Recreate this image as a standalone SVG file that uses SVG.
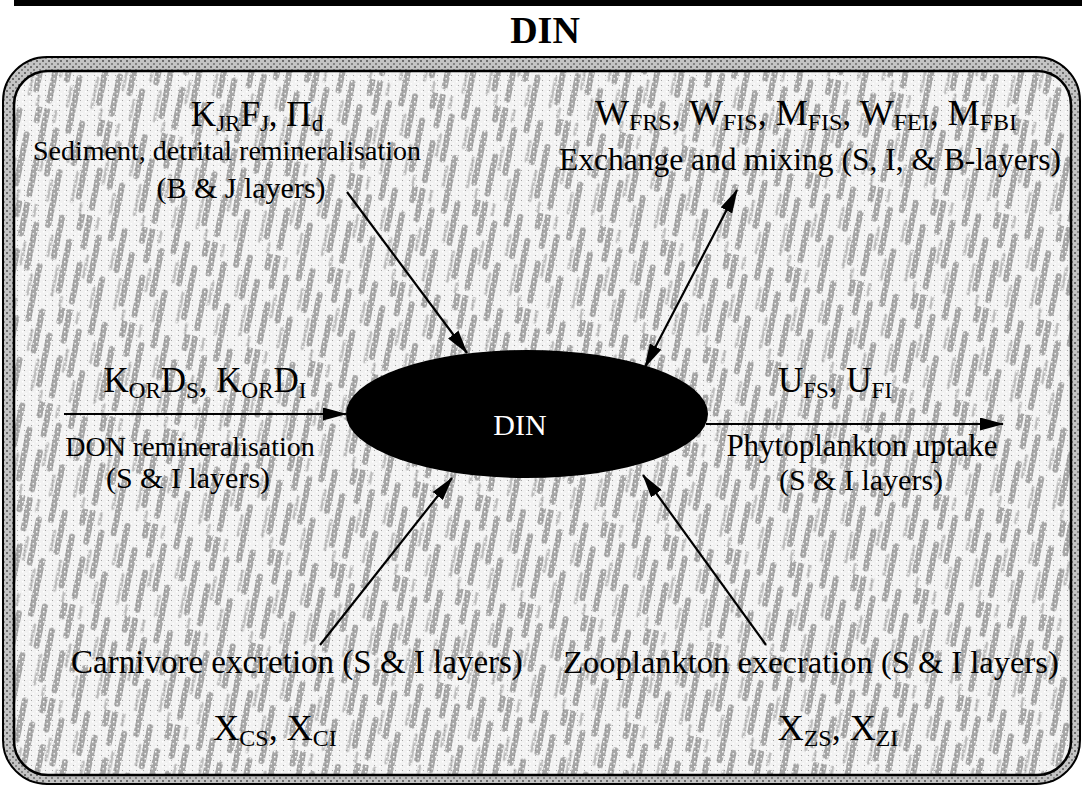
<svg xmlns="http://www.w3.org/2000/svg" width="1082" height="786" viewBox="0 0 1082 786">
<style>
.t{font-family:"Liberation Serif","Times New Roman",serif;fill:#000}
.m{font-size:35px}
.s{font-size:23px}
.c{stroke:#000;stroke-width:2.2;fill:none}
</style>
<defs>
<pattern id="tex" width="64" height="96" patternUnits="userSpaceOnUse" patternTransform="rotate(12)">
<rect width="64" height="96" fill="#f2f2f2"/>
<g stroke-linecap="round" fill="none">
<path stroke="#a6a6a6" stroke-width="6" d="M5,2 v30 M5,50 v38 M18,20 v44 M30,0 v18 M30,60 v34 M42,8 v40 M54,30 v50 M61,0 v14"/>
<path stroke="#bdbdbd" stroke-width="3" d="M11,40 v22 M24,70 v20 M36,28 v20 M48,56 v30 M58,86 v10 M14,0 v12"/>
</g>
</pattern>
<pattern id="speck" width="7" height="5" patternUnits="userSpaceOnUse">
<rect x="1" y="1" width="1.5" height="1.5" fill="#fff"/>
<rect x="4.5" y="3" width="1.5" height="1.5" fill="#fff" opacity="0.8"/>
<rect x="3" y="0" width="1" height="1" fill="#777" opacity="0.6"/>
</pattern>
<pattern id="band" width="6" height="6" patternUnits="userSpaceOnUse">
<rect width="6" height="6" fill="#c4c4c4"/>
<rect x="0" y="0" width="2" height="2" fill="#6e6e6e"/>
<rect x="3" y="3" width="2" height="2" fill="#858585"/>
</pattern>
<marker id="ah" viewBox="0 0 24 13" refX="23" refY="6.5" markerWidth="24" markerHeight="13" markerUnits="userSpaceOnUse" orient="auto-start-reverse">
<path d="M0,0 L24,6.5 L0,13 z" fill="#000"/>
</marker>
</defs>
<rect x="14" y="0" width="1068" height="6" fill="#000"/>
<text class="t" x="545" y="43" font-size="38" font-weight="bold" text-anchor="middle">DIN</text>
<g id="frame">
<rect x="3" y="57" width="1077" height="727" rx="44" fill="url(#band)" stroke="#000" stroke-width="2"/>
<rect x="14" y="71" width="1057" height="704" rx="34" fill="url(#tex)" stroke="#000" stroke-width="2.5"/>
<rect x="16" y="73" width="1053" height="700" rx="32" fill="url(#speck)"/>
</g>
<g id="connectors">
<line class="c" x1="347" y1="192" x2="467" y2="353" marker-end="url(#ah)"/>
<line class="c" x1="645" y1="367" x2="737" y2="190" marker-start="url(#ah)" marker-end="url(#ah)"/>
<line class="c" x1="64" y1="414" x2="346" y2="414" marker-end="url(#ah)"/>
<line class="c" x1="706" y1="424" x2="1003" y2="424" marker-end="url(#ah)"/>
<line class="c" x1="320" y1="645" x2="452" y2="478" marker-end="url(#ah)"/>
<line class="c" x1="766" y1="645" x2="643" y2="475" marker-end="url(#ah)"/>
</g>
<g id="node-din">
<ellipse cx="527" cy="414" rx="181" ry="64" fill="#000"/>
<text class="t" x="520" y="435" font-size="30" text-anchor="middle" style="fill:#fff">DIN</text>
</g>
<g id="label-sediment">
<text class="t m" x="257" y="126" text-anchor="middle">K<tspan class="s" dy="5">JR</tspan><tspan dy="-5">F</tspan><tspan class="s" dy="5">J</tspan><tspan dy="-5">, Π</tspan><tspan class="s" dy="5">d</tspan></text>
<text class="t" x="227" y="160" font-size="28" text-anchor="middle">Sediment, detrital remineralisation</text>
<text class="t" x="241" y="198" font-size="30" text-anchor="middle">(B &amp; J layers)</text>
</g>
<g id="label-exchange">
<text class="t" x="806" y="125" font-size="36" text-anchor="middle">W<tspan font-size="24" dy="5">FRS</tspan><tspan dy="-5">, W</tspan><tspan font-size="24" dy="5">FIS</tspan><tspan dy="-5">, M</tspan><tspan font-size="24" dy="5">FIS</tspan><tspan dy="-5">, W</tspan><tspan font-size="24" dy="5">FEI</tspan><tspan dy="-5">, M</tspan><tspan font-size="24" dy="5">FBI</tspan></text>
<text class="t" x="810" y="170" font-size="31.5" text-anchor="middle">Exchange and mixing (S, I, &amp; B-layers)</text>
</g>
<g id="label-don">
<text class="t m" x="205" y="392" text-anchor="middle">K<tspan class="s" dy="6">OR</tspan><tspan dy="-6">D</tspan><tspan class="s" dy="6">S</tspan><tspan dy="-6">, K</tspan><tspan class="s" dy="6">OR</tspan><tspan dy="-6">D</tspan><tspan class="s" dy="6">I</tspan></text>
<text class="t" x="190" y="456" font-size="28" text-anchor="middle">DON remineralisation</text>
<text class="t" x="188" y="488" font-size="30" text-anchor="middle">(S &amp; I layers)</text>
</g>
<g id="label-phyto">
<text class="t m" x="835" y="392" text-anchor="middle">U<tspan class="s" dy="6">FS</tspan><tspan dy="-6">, U</tspan><tspan class="s" dy="6">FI</tspan></text>
<text class="t" x="862" y="456" font-size="31" text-anchor="middle">Phytoplankton uptake</text>
<text class="t" x="861" y="490" font-size="30" text-anchor="middle">(S &amp; I layers)</text>
</g>
<g id="label-carnivore">
<text class="t" x="297" y="673" font-size="33" text-anchor="middle">Carnivore excretion (S &amp; I layers)</text>
<text class="t" x="275" y="740" font-size="36" text-anchor="middle">X<tspan font-size="24" dy="6">CS</tspan><tspan dy="-6">, X</tspan><tspan font-size="24" dy="6">CI</tspan></text>
</g>
<g id="label-zoo">
<text class="t" x="811" y="673" font-size="32.5" text-anchor="middle">Zooplankton execration (S &amp; I layers)</text>
<text class="t" x="838" y="740" font-size="36" text-anchor="middle">X<tspan font-size="24" dy="6">ZS</tspan><tspan dy="-6">, X</tspan><tspan font-size="24" dy="6">ZI</tspan></text>
</g>
</svg>
